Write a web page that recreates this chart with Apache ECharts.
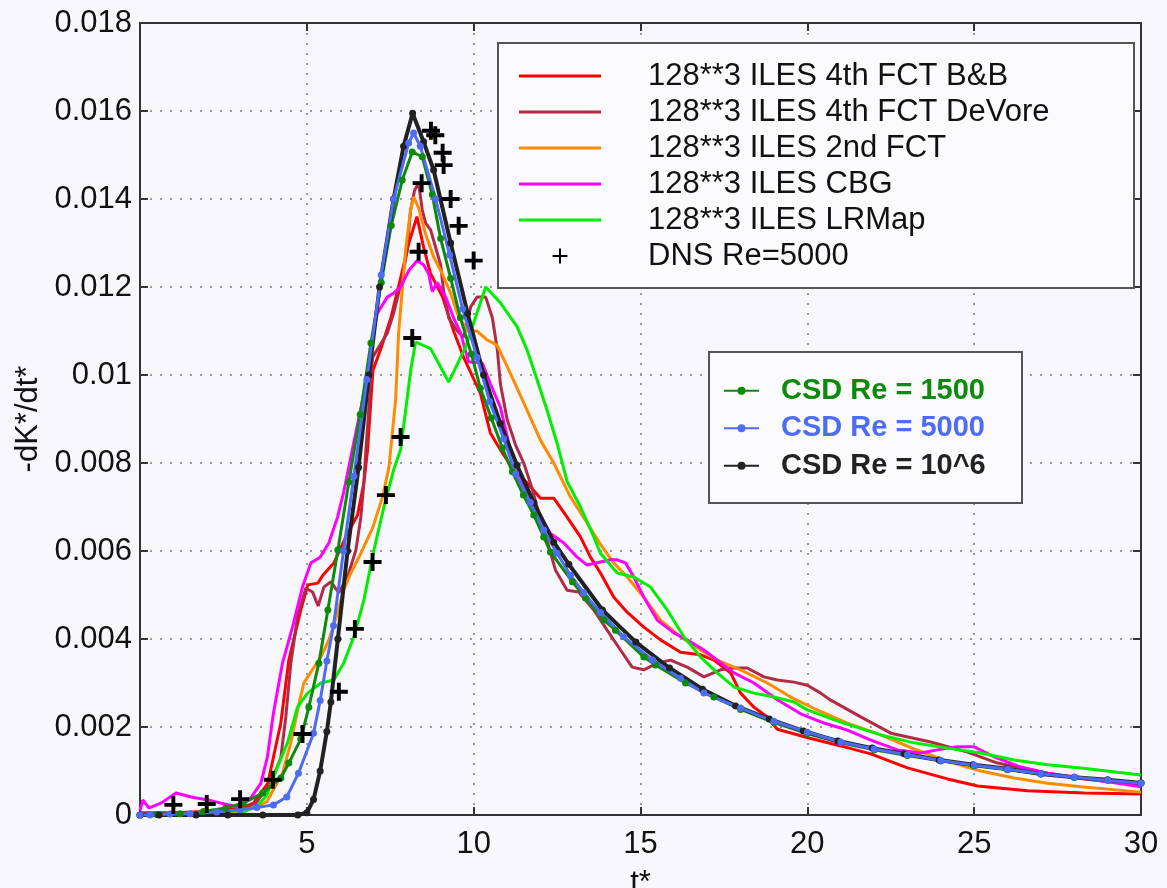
<!DOCTYPE html>
<html><head><meta charset="utf-8">
<script src="https://cdn.jsdelivr.net/npm/echarts@6/dist/echarts.min.js"></script>
<style>html,body{margin:0;padding:0;background:#f8f8fc}#c{width:1167px;height:888px}</style>
</head><body><div id="c"></div>
<script>
// ---- tick labels ----
const xTickLabels = ['', '5', '10', '15', '20', '25', '30'];
const yTickLabels = ['0', '0.002', '0.004', '0.006', '0.008', '0.01', '0.012', '0.014', '0.016', '0.018'];

// ---- series names ----
const ilesNames = ['128**3 ILES 4th FCT B&B', '128**3 ILES 4th FCT DeVore', '128**3 ILES 2nd FCT', '128**3 ILES CBG', '128**3 ILES LRMap'];
const dnsName = 'DNS Re=5000';
const csdNames = ['CSD Re = 1500', 'CSD Re = 5000', 'CSD Re = 10^6'];

// ---- data (t*, -dK*/dt*) ----
const bbT = [0,1,2,3,3.4,3.83,4.22,4.46,4.82,5.03,5.33,5.48,5.81,6.22,6.52,6.71,6.82,6.98,7.22,7.52,7.81,8.06,8.3,8.5,8.71,9.07,9.4,9.7,10.2,10.5,10.8,11.2,11.6,12.0,12.4,12.8,13.2,13.5,13.8,14.2,14.6,15.1,15.6,16.2,16.8,17.2,17.7,18.0,18.4,18.8,19.1,20.05,21.0,21.9,23.0,24.2,25.1,26.6,28.3,30];
const bbV = [0.00005,0.00005,0.00008,0.00015,0.00027,0.00072,0.00209,0.00352,0.00466,0.00523,0.00527,0.00545,0.00573,0.0064,0.00682,0.00755,0.0083,0.0101,0.0106,0.0113,0.0122,0.013,0.0136,0.0129,0.0123,0.01177,0.011,0.0104,0.00959,0.00868,0.0083,0.00784,0.00755,0.0072,0.0072,0.00677,0.00632,0.00586,0.0055,0.00495,0.00461,0.00427,0.00398,0.0037,0.00364,0.00352,0.00323,0.00277,0.00245,0.00223,0.00195,0.00175,0.00157,0.00139,0.00107,0.00082,0.00066,0.00055,0.0005,0.00048];

const devT = [0,1,2,3,3.47,3.9,4.22,4.37,4.52,4.72,4.97,5.17,5.34,5.51,5.72,5.96,6.22,6.47,6.62,6.71,6.77,6.97,7.41,7.6,7.86,8.0,8.11,8.23,8.35,8.46,8.56,8.71,8.86,9.01,9.1,9.25,9.51,9.7,9.91,10.1,10.36,10.56,10.71,10.8,11.0,11.26,11.5,11.76,11.9,12.1,12.45,12.8,13.15,13.6,14.0,14.4,14.75,15.1,15.5,15.9,16.4,16.9,17.4,17.8,18.2,18.7,19.1,19.6,20.0,20.4,20.7,21.6,22.5,23.7,24.8,25.7,27.2,28.3,30];
const devV = [0.00003,0.00004,0.00006,0.00012,0.00027,0.0007,0.0013,0.00223,0.00345,0.0045,0.00516,0.00507,0.00475,0.00518,0.0053,0.00505,0.00541,0.00602,0.00677,0.00755,0.0083,0.0104,0.01095,0.0114,0.0122,0.0128,0.01375,0.0142,0.01436,0.01375,0.01345,0.0133,0.0129,0.0125,0.0119,0.0113,0.011,0.01086,0.01155,0.01177,0.01177,0.0113,0.01057,0.0098,0.009,0.0084,0.008,0.0074,0.007,0.0065,0.00557,0.00511,0.00507,0.00466,0.0042,0.00375,0.00336,0.0033,0.00345,0.00352,0.00336,0.00314,0.0033,0.00334,0.00334,0.00314,0.00307,0.00302,0.00295,0.00277,0.00261,0.00223,0.00186,0.00166,0.00143,0.00118,0.00095,0.00082,0.00068];

const fct2T = [0,2,3,3.8,4.27,4.52,4.77,4.91,5.12,5.42,5.66,5.92,6.1,6.32,6.62,6.97,7.27,7.46,7.66,7.75,7.96,8.11,8.2,8.35,8.56,8.8,9.06,9.31,9.51,9.81,10.1,10.4,10.7,11.0,11.3,11.6,12.0,12.4,12.9,13.4,13.8,14.2,14.6,15.1,15.6,16.2,16.8,17.3,18.0,18.8,19.5,20.2,21.2,22.2,23.2,24.2,25.2,26.2,27.2,28.2,30];
const fct2V = [0,0.00002,0.00005,0.0003,0.00095,0.00164,0.00255,0.003,0.00325,0.00359,0.00398,0.00459,0.00511,0.0055,0.00595,0.00652,0.00723,0.0079,0.00943,0.01095,0.01284,0.01375,0.01405,0.0138,0.0132,0.01268,0.0123,0.01186,0.0114,0.011,0.011,0.0108,0.01068,0.0102,0.0097,0.0092,0.00852,0.008,0.00723,0.00664,0.00615,0.00573,0.00541,0.00495,0.00443,0.00405,0.00375,0.00352,0.0033,0.003,0.00268,0.00242,0.00209,0.00182,0.0015,0.00122,0.001,0.00084,0.00072,0.00064,0.00052];

const cbgT = [0,0.08,0.27,0.63,1.08,1.53,2.03,2.43,2.93,3.32,3.62,3.82,4.0,4.27,4.57,4.87,5.12,5.4,5.66,5.92,6.1,6.32,6.77,6.97,7.11,7.41,7.6,7.81,8.06,8.31,8.5,8.65,8.76,8.91,9.16,9.4,9.61,9.85,10.26,10.5,10.8,11.1,11.5,11.9,12.3,12.7,13.1,13.4,13.8,14.1,14.3,14.55,14.8,15.1,15.5,16.0,16.4,16.9,17.3,17.8,18.4,19.1,19.8,20.5,21.2,21.9,22.7,23.4,23.9,24.5,25.0,25.6,26.4,27.2,28.2,29.2,30];
const cbgV = [0.0001,0.00034,0.00016,0.00027,0.0005,0.00041,0.00034,0.00027,0.00018,0.00039,0.00072,0.00132,0.00232,0.00345,0.00427,0.00518,0.00573,0.00586,0.00618,0.00677,0.00732,0.00814,0.0098,0.01086,0.0114,0.01177,0.01186,0.012,0.01238,0.0126,0.0125,0.0123,0.0119,0.0121,0.01177,0.0113,0.01095,0.0103,0.01027,0.0098,0.00927,0.0083,0.0075,0.0069,0.0064,0.00618,0.00586,0.00568,0.00575,0.0058,0.0058,0.00573,0.00541,0.00495,0.00443,0.00414,0.00398,0.00375,0.00352,0.00323,0.003,0.00262,0.0023,0.00209,0.00193,0.0017,0.00148,0.00141,0.00148,0.00155,0.00155,0.00132,0.00109,0.00095,0.00084,0.00073,0.00064];

const lrmT = [0,2,3,3.5,3.8,4.12,4.42,4.72,5.02,5.42,5.81,6.1,6.41,6.71,7.01,7.31,7.6,7.81,8.0,8.11,8.26,8.71,9.25,9.76,10.36,10.8,11.3,11.6,11.9,12.2,12.5,12.8,13.2,13.6,13.8,14.3,14.8,15.3,15.8,16.3,16.8,17.3,17.8,18.4,19.0,19.6,20.0,21.0,22.2,23.2,24.2,25.2,26.2,27.2,28.2,30];
const lrmV = [0,0.00001,0.00003,0.0002,0.00045,0.00109,0.00164,0.00245,0.00277,0.003,0.00307,0.00345,0.00405,0.00489,0.00602,0.007,0.00784,0.0083,0.00943,0.0101,0.01075,0.0106,0.00984,0.01064,0.012,0.01164,0.0111,0.01057,0.00989,0.0092,0.00845,0.00758,0.007,0.00632,0.00595,0.0055,0.00541,0.00518,0.00466,0.00405,0.00359,0.00323,0.00291,0.00277,0.00268,0.00257,0.00239,0.00211,0.00182,0.00164,0.00152,0.00141,0.00125,0.00114,0.00107,0.00091];

const dnsT = [1.0,2.0,3.0,3.98,4.87,5.96,6.44,6.97,7.37,7.81,8.16,8.35,8.44,8.72,8.85,9.07,9.1,9.31,9.55,10.0];
const dnsV = [0.00023,0.00025,0.00036,0.0008,0.00184,0.0028,0.00423,0.00575,0.00727,0.00859,0.01084,0.0128,0.01436,0.01555,0.01545,0.01505,0.01477,0.014,0.01339,0.0126];

const csd1500T = [0,0.5,1.2,1.9,2.57,3.1,3.68,4.22,4.46,4.82,5.06,5.36,5.63,5.93,6.26,6.6,6.92,7.23,7.53,7.86,8.16,8.46,8.76,9.01,9.31,9.6,9.93,10.2,10.53,10.86,11.16,11.49,11.8,12.1,12.3,12.96,13.35,13.9,14.25,15.1,15.45,16.35,17.2,18.0,19.0,20.0,21.0,22.0,23.0,24.0,25.0,26.0,27.0,28.0,29.0,30];
const csd1500V = [0,0.00001,0.00003,0.00008,0.00016,0.00027,0.0005,0.00084,0.00118,0.00173,0.00245,0.00345,0.00466,0.00602,0.00757,0.0091,0.01073,0.0121,0.0134,0.01443,0.01507,0.01496,0.0141,0.0131,0.0122,0.0113,0.01048,0.0097,0.00902,0.00834,0.0078,0.00727,0.00682,0.00632,0.00598,0.0053,0.00493,0.00443,0.0042,0.00359,0.00341,0.003,0.00268,0.0024,0.0021,0.00185,0.00164,0.00148,0.00135,0.00123,0.00112,0.00103,0.00094,0.00086,0.00079,0.00073];

const csd5000T = [0,0.3,0.9,1.5,2.3,3.0,3.5,4.0,4.4,4.75,5.2,5.4,5.6,5.8,6.1,6.41,6.8,7.23,7.6,8.05,8.2,8.4,8.86,9.28,9.67,10.1,10.48,10.9,11.26,11.7,12.1,12.5,12.9,13.3,13.8,14.5,15.36,16.2,16.9,18.0,19.0,20.0,21.0,22.0,23.0,24.0,25.0,26.0,27.0,28.0,29.0,30];
const csd5000V = [0,0,0.00002,0.00003,0.00007,0.00012,0.00017,0.00023,0.00041,0.00095,0.00186,0.0026,0.0035,0.0043,0.006,0.0077,0.0099,0.01227,0.014,0.01527,0.0155,0.0152,0.014,0.01273,0.0115,0.0104,0.0094,0.00855,0.00775,0.0071,0.00648,0.00595,0.00545,0.00505,0.0046,0.00405,0.00352,0.00311,0.00277,0.00243,0.00213,0.00188,0.00166,0.0015,0.00137,0.00124,0.00113,0.00104,0.00094,0.00086,0.00079,0.00072];

const csd1e6T = [0,0.57,1.68,2.63,3.68,4.73,5.0,5.2,5.4,5.6,5.72,5.93,6.22,6.55,6.86,7.18,7.6,7.9,8.17,8.5,8.8,9.31,9.82,10.3,10.8,11.3,11.8,12.4,12.85,13.86,14.86,15.87,16.86,17.85,18.86,19.88,20.92,21.95,22.9,23.95,24.97,25.99,27.0,28.0,29.0,30];
const csd1e6V = [0,0,0,0,0,0,0.00005,0.00035,0.001,0.0019,0.00257,0.004,0.006,0.0079,0.01,0.012,0.014,0.0152,0.01595,0.0153,0.01466,0.013,0.0114,0.01,0.0089,0.00795,0.0071,0.0062,0.0057,0.00466,0.00393,0.00334,0.00286,0.00248,0.00218,0.00191,0.00168,0.00152,0.00139,0.00125,0.00114,0.00105,0.00093,0.00086,0.0008,0.00073];

// ---- build ----
const FONT = 'Liberation Sans';
const zip = (t, v) => t.map((x, i) => [x, v[i]]);
const PLUS = 'path://M4.7,0H7.3V4.7H12V7.3H7.3V12H4.7V7.3H0V4.7H4.7Z';
const PLUS_THIN = 'path://M5.2,0H6.8V5.2H12V6.8H6.8V12H5.2V6.8H0V5.2H5.2Z';
const LINE_ICON = 'path://M0,0H82V3H0Z';

function ilesLine(name, color, t, v) {
  return { name, type: 'line', data: zip(t, v), symbol: 'none', smooth: false,
    lineStyle: { color, width: 3 }, itemStyle: { color }, z: 2 };
}
function csdLine(name, color, t, v, w) {
  return { name, type: 'line', data: zip(t, v), symbol: 'circle', symbolSize: 7, showSymbol: true,
    lineStyle: { color, width: w }, itemStyle: { color }, z: 3 };
}

const axisLineStyle = { color: '#333', width: 2 };
const tickStyle = { inside: true, length: 8, lineStyle: { color: '#333', width: 2 } };
const gridLine = { show: true, lineStyle: { color: '#9a9a9a', width: 2, type: [2, 8] } };

const option = {
  animation: false,
  backgroundColor: '#f8f8fc',
  textStyle: { fontFamily: FONT },
  grid: { left: 140, right: 26, top: 23, bottom: 73, containLabel: false, outerBoundsMode: 'none' },
  xAxis: [
    { type: 'value', min: 0, max: 30, interval: 5,
      axisLine: { onZero: false, lineStyle: axisLineStyle }, axisTick: tickStyle,
      axisLabel: { fontSize: 31, color: '#111', margin: 14, fontFamily: FONT,
        formatter: v => xTickLabels[Math.round(v / 5)] },
      splitLine: gridLine,
      name: 't*', nameLocation: 'middle', nameGap: 53,
      nameTextStyle: { fontSize: 31, color: '#111', fontFamily: FONT } },
    { type: 'value', position: 'top', min: 0, max: 30, interval: 5,
      axisLine: { onZero: false, lineStyle: axisLineStyle }, axisTick: tickStyle,
      axisLabel: { show: false }, splitLine: { show: false } }
  ],
  yAxis: [
    { type: 'value', min: 0, max: 0.018, interval: 0.002,
      axisLine: { show: true, onZero: false, lineStyle: axisLineStyle }, axisTick: { show: true, ...tickStyle },
      axisLabel: { fontSize: 31, color: '#111', margin: 8, fontFamily: FONT,
        formatter: v => yTickLabels[Math.round(v / 0.002)] },
      splitLine: gridLine,
      name: '-dK*/dt*', nameLocation: 'middle', nameGap: 88, nameRotate: 90,
      nameTextStyle: { fontSize: 31, color: '#111', fontFamily: FONT } },
    { type: 'value', position: 'right', min: 0, max: 0.018, interval: 0.002,
      axisLine: { show: true, onZero: false, lineStyle: axisLineStyle }, axisTick: { show: true, ...tickStyle },
      axisLabel: { show: false }, splitLine: { show: false } }
  ],
  graphic: [
    { type: 'rect', left: 497, top: 42, z: 4, shape: { width: 636, height: 245 },
      style: { fill: '#fbfbfe', stroke: '#555', lineWidth: 2 } },
    { type: 'rect', left: 708, top: 351, z: 4, shape: { width: 313, height: 151 },
      style: { fill: '#fbfbfe', stroke: '#555', lineWidth: 2 } }
  ],
  legend: [
    { data: [
        ...ilesNames.map(n => ({ name: n, icon: LINE_ICON })),
        { name: dnsName, icon: PLUS_THIN }],
      left: 497, top: 42, orient: 'vertical', z: 6,
      padding: [16, 10, 13, 22], itemGap: 0, itemWidth: 82, itemHeight: 15, selectedMode: false,
      textStyle: { fontSize: 31, color: '#111', lineHeight: 36, fontFamily: FONT, padding: [0, 0, 0, 42] } },
    { data: [
        { name: csdNames[0], textStyle: { color: '#0c8a0c' } },
        { name: csdNames[1], textStyle: { color: '#4d6cf5' } },
        { name: csdNames[2], textStyle: { color: '#222222' } }],
      left: 708, top: 351, orient: 'vertical', z: 6,
      padding: [21, 10, 16, 15], itemGap: 0, itemWidth: 35, itemHeight: 10, selectedMode: false,
      lineStyle: { width: 2 },
      textStyle: { fontSize: 29, fontWeight: 'bold', lineHeight: 37.5, fontFamily: FONT, padding: [0, 0, 0, 17] } }
  ],
  series: [
    ilesLine(ilesNames[0], '#ff0000', bbT, bbV),
    ilesLine(ilesNames[1], '#b22a45', devT, devV),
    ilesLine(ilesNames[2], '#ff8c00', fct2T, fct2V),
    ilesLine(ilesNames[3], '#ff00ff', cbgT, cbgV),
    ilesLine(ilesNames[4], '#00ee00', lrmT, lrmV),
    csdLine(csdNames[0], '#0c8a0c', csd1500T, csd1500V, 3),
    csdLine(csdNames[2], '#222222', csd1e6T, csd1e6V, 4),
    csdLine(csdNames[1], '#4d6cf5', csd5000T, csd5000V, 3),
    { name: dnsName, type: 'scatter', data: zip(dnsT, dnsV), symbol: PLUS, symbolSize: 18,
      symbolKeepAspect: true, itemStyle: { color: '#000', opacity: 1 }, z: 3 }
  ]
};

const chart = echarts.init(document.getElementById('c'), null, { renderer: 'canvas' });
chart.setOption(option);
</script>
</body></html>
